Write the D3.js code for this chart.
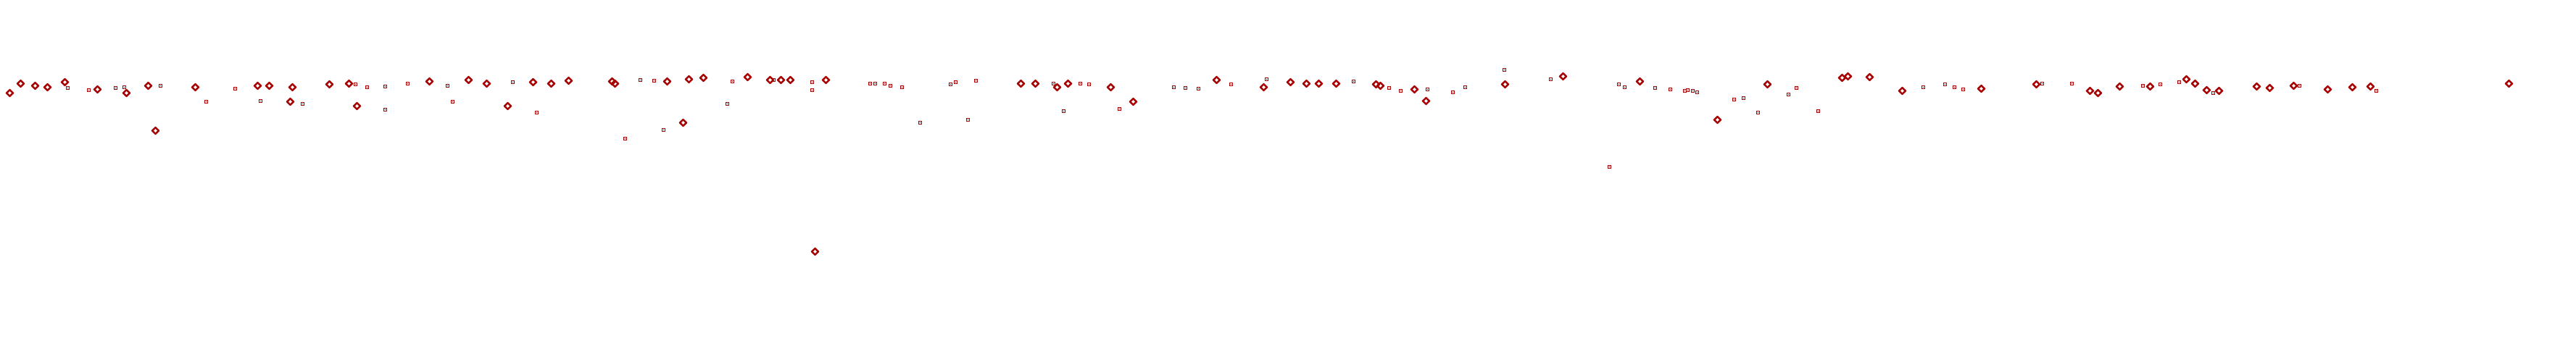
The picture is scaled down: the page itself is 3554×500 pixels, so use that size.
<!DOCTYPE html>
<html><head><meta charset="utf-8">
<script src="https://cdn.jsdelivr.net/npm/d3@7/dist/d3.min.js"></script>
<style>html,body{margin:0;padding:0;background:#fff;}svg{display:block;}</style>
</head><body>
<script>
// Series A (diamond markers)
const diamondX = [1.33,2.83,4.83,6.53,8.93,13.43,17.43,20.43,21.43,26.93,35.53,37.13,40.33,40.03,45.43,48.13,49.23,59.23,64.63,67.13,70.03,73.53,76.03,78.43,84.43,84.83,92.03,94.23,95.03,97.03,103.13,106.23,107.73,109.03,112.4,113.93,140.83,142.83,145.83,147.33,153.23,156.33,167.83,174.33,178.03,180.17,181.93,184.33,189.83,190.43,195.13,196.73,207.63,215.63,226.23,236.93,243.83,254.13,254.93,257.93,262.43,273.33,280.93,288.33,289.43,292.43,296.63,301.63,302.83,304.43,306.13,311.33,313.13,316.43,321.13,324.53,327.03,346.13];
const diamondY = [74.5,76.9,76.5,76.1,77.4,75.5,74.5,76.5,64.1,76.1,76.5,76.5,76.1,71.9,76.7,77.1,70.7,77.5,77.9,76.9,70.7,77.3,77.1,77.7,77.5,77.1,77.5,66.3,78.3,78.5,78.7,77.9,77.9,77.9,30.6,77.9,77.1,77.1,76.1,76.9,76.1,71.9,77.9,76.1,77.3,77.1,77.1,77.1,76.7,76.5,75.5,72.3,76.7,78.9,77.5,67.1,76.7,78.5,78.9,78.7,74.9,75.7,76.7,74.9,74.5,76.3,76.3,78.3,77.1,75.3,74.9,76.3,75.9,76.5,75.5,76.1,76.3,77.1];
// Series B (small square markers)
const squareX = [9.33,12.23,15.93,17.13,22.13,28.43,32.43,35.93,41.73,49.03,50.63,53.13,53.13,56.23,61.73,62.43,70.73,74.03,86.23,88.33,90.15,91.53,100.33,101.03,106.73,112.03,112.03,119.97,120.73,122.03,122.83,124.43,126.93,131.13,131.83,133.53,134.63,145.33,146.73,149.03,150.23,154.43,161.93,163.53,165.33,169.83,174.73,186.73,191.63,193.23,196.93,200.43,202.13,207.53,213.93,222.03,223.33,224.13,228.33,230.43,232.43,232.83,233.53,234.13,239.23,240.53,242.53,246.73,247.83,250.83,265.33,268.33,269.63,270.83,281.73,285.83,295.63,298.03,300.63,305.33,317.23,327.83];
const squareY = [75.9,75.3,75.9,76.1,76.5,72.1,75.7,72.3,71.5,76.7,76.1,76.3,69.7,77.1,76.5,71.9,77.3,69.1,61.9,77.9,77.7,64.3,71.5,77.5,77.9,77.3,75.3,77.1,76.9,76.9,76.5,76.1,66.3,76.7,77.3,67.1,77.7,76.9,69.5,76.9,76.7,70.1,76.1,75.9,75.7,76.7,78.3,77.5,75.9,74.9,75.5,74.7,76.1,80.7,78.3,53.9,76.7,76.1,75.9,75.5,75.1,75.3,75.1,74.7,72.7,73.1,69.1,74.1,75.9,69.5,76.1,76.7,76.1,75.5,76.9,76.9,76.5,76.7,77.3,74.5,76.5,75.1];

const W = 3554, H = 500, color = "#a80000";
const x = d3.scaleLinear().domain([0, 355.4]).range([0, W]);
const y = d3.scaleLinear().domain([0, 100]).range([H, 0]);

const svg = d3.select("body").append("svg").attr("width", W).attr("height", H);

const sq = d3.range(squareX.length).map(i => ({x: squareX[i], y: squareY[i]}));
const dm = d3.range(diamondX.length).map(i => ({x: diamondX[i], y: diamondY[i]}));

const gs = svg.append("g").attr("class", "squares");
const sg = gs.selectAll("g").data(sq).join("g")
  .attr("transform", d => `translate(${Math.round(x(d.x))},${Math.round(y(d.y))})`);
sg.append("rect").attr("x", -2).attr("y", -2).attr("width", 4).attr("height", 4)
  .attr("fill", "none").attr("stroke", color).attr("stroke-width", 1)
  .attr("transform", "translate(0.5,0.5)").attr("shape-rendering", "crispEdges");
sg.append("rect").attr("x", 0).attr("y", 0).attr("width", 1).attr("height", 1)
  .attr("fill", color).attr("shape-rendering", "crispEdges");

const diamond = d3.symbol().type(d3.symbolDiamond2).size(50);
const gd = svg.append("g").attr("class", "diamonds");
const dg = gd.selectAll("g").data(dm).join("g")
  .attr("transform", d => `translate(${Math.round(x(d.x)) + 0.5},${Math.round(y(d.y)) + 0.5})`);
dg.append("path").attr("d", diamond).attr("fill", "none")
  .attr("stroke", color).attr("stroke-width", 2.6).attr("stroke-linejoin", "round");
dg.append("path").attr("d", "M0,-5.5V-3.5M0,3.5V5.5M-5.5,0H-3.5M3.5,0H5.5")
  .attr("stroke", color).attr("stroke-width", 1.2);
</script>
</body></html>
